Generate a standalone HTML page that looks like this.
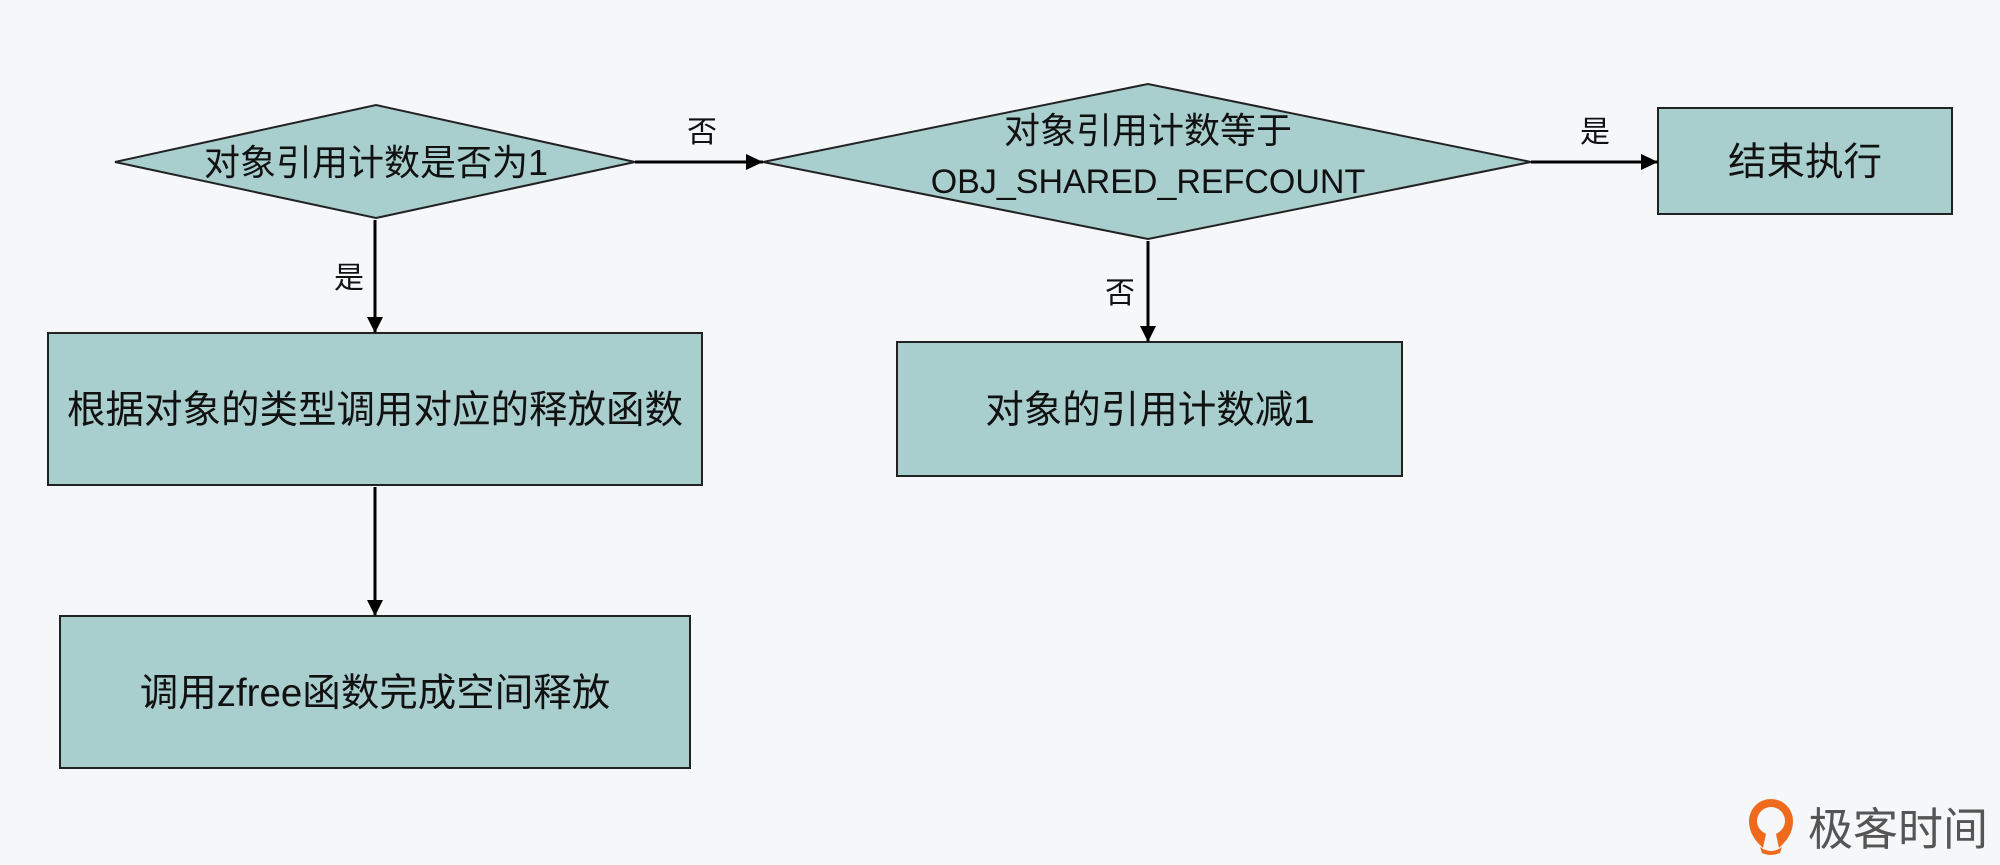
<!DOCTYPE html>
<html><head><meta charset="utf-8"><style>
html,body{margin:0;padding:0;background:#f5f7f9;}
svg{display:block;}
text{font-family:"Liberation Sans","Noto Sans CJK SC",sans-serif;fill:#111;}
</style></head><body>
<svg width="2000" height="865" viewBox="0 0 2000 865" xmlns="http://www.w3.org/2000/svg">
<defs>
<marker id="a" markerWidth="16" markerHeight="20" refX="15" refY="8" orient="auto" markerUnits="userSpaceOnUse"><path d="M0,0 L16,8 L0,16 Z" fill="#000"/></marker>
<marker id="b" markerWidth="18" markerHeight="18" refX="17" refY="9" orient="auto" markerUnits="userSpaceOnUse"><path d="M0,1 L17,9 L0,17 Z" fill="#000"/></marker></defs>
<rect width="2000" height="865" fill="#f5f7f9"/>
<g fill="#a9cece" stroke="#222" stroke-width="2">
<polygon points="115,162 376,105 635,162 376,218"/>
<polygon points="763,162 1148,84 1531,162 1148,239"/>
<rect x="1658" y="108" width="294" height="106"/>
<rect x="48" y="333" width="654" height="152"/>
<rect x="60" y="616" width="630" height="152"/>
<rect x="897" y="342" width="505" height="134"/>
</g>
<g stroke="#000" stroke-width="3" fill="none">
<line x1="635" y1="162" x2="763" y2="162" marker-end="url(#b)"/>
<line x1="1531" y1="162" x2="1658" y2="162" marker-end="url(#b)"/>
<line x1="375" y1="220" x2="375" y2="332" marker-end="url(#a)"/>
<line x1="375" y1="487" x2="375" y2="615" marker-end="url(#a)"/>
<line x1="1148" y1="241" x2="1148" y2="341" marker-end="url(#a)"/>
</g>
<g text-anchor="middle" font-size="36">
<text x="376" y="175">对象引用计数是否为1</text>
<text x="1148" y="143">对象引用计数等于</text>
<text x="1148" y="193" font-size="34">OBJ_SHARED_REFCOUNT</text>
</g>
<g text-anchor="middle" font-size="38.5">
<text x="1805" y="175">结束执行</text>
<text x="375" y="423">根据对象的类型调用对应的释放函数</text>
<text x="375" y="706">调用zfree函数完成空间释放</text>
<text x="1150" y="423">对象的引用计数减1</text>
</g>
<g text-anchor="middle" font-size="30">
<text x="702" y="142">否</text>
<text x="1595" y="142">是</text>
<text x="349" y="288">是</text>
<text x="1120" y="303">否</text>
</g>
<g>
<path d="M1771,799 a22,22 0 0 1 22,22 c0,14 -9,22 -14,27 l-3,-14 c6,-3 9,-8 9,-13 a14,14 0 1 0 -28,0 c0,5 3,10 9,13 l-3,14 c-5,-5 -14,-13 -14,-27 a22,22 0 0 1 22,-22z" fill="#ee6a1c"/>
<path d="M1760,847 q11,8 22,0 l-2,6 q-9,4 -18,0z" fill="#ee6a1c"/>
<text x="1808" y="845" font-size="45" style="fill:#555">极客时间</text>
</g>
</svg>
</body></html>
